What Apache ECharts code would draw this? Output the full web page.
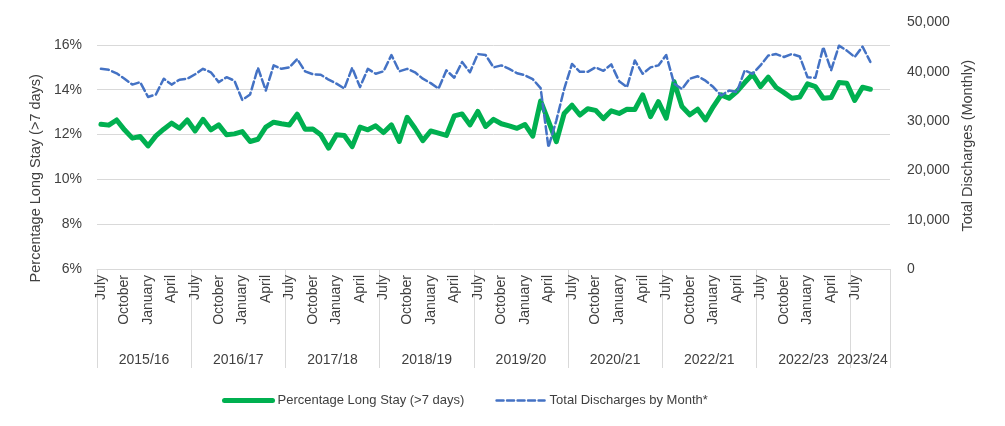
<!DOCTYPE html>
<html>
<head>
<meta charset="utf-8">
<script src="https://cdn.jsdelivr.net/npm/echarts@6/dist/echarts.min.js"></script>
<style>
html,body{margin:0;padding:0;background:#fff;}
#chart{width:1005px;height:426px;}
</style>
</head>
<body>
<div id="chart"></div>
<script>
// Month order of each financial year (July start)
const monthNames = ['July','August','September','October','November','December','January','February','March','April','May','June'];
// 101 monthly categories: July 2015 ... November 2023
const months = [];
for (let i = 0; i < 101; i++) months.push(monthNames[i % 12]);

const yearLabels = ['2015/16','2016/17','2017/18','2018/19','2019/20','2020/21','2022/21','2022/23','2023/24'];
const yearLabelAt = [6, 18, 30, 42, 54, 66, 78, 90, 97];

const pctLongStay = [
  12.46, 12.42, 12.65, 12.21, 11.84, 11.91, 11.49, 11.94, 12.24, 12.51, 12.28, 12.65,
  12.16, 12.68, 12.21, 12.43, 11.99, 12.03, 12.13, 11.69, 11.79, 12.33, 12.55, 12.48,
  12.43, 12.91, 12.24, 12.25, 11.99, 11.39, 11.99, 11.96, 11.46, 12.33, 12.21, 12.39,
  12.09, 12.43, 11.69, 12.77, 12.28, 11.73, 12.16, 12.06, 11.96, 12.83, 12.92, 12.43,
  13.03, 12.36, 12.68, 12.48, 12.39, 12.28, 12.45, 11.93, 13.50, 12.60, 11.68, 12.94,
  13.31, 12.87, 13.15, 13.08, 12.71, 13.06, 12.94, 13.13, 13.12, 13.77, 12.80, 13.47,
  12.73, 14.36, 13.25, 12.88, 13.13, 12.65, 13.25, 13.77, 13.62, 13.92, 14.32, 14.69,
  14.14, 14.56, 14.10, 13.87, 13.62, 13.67, 14.26, 14.14, 13.62, 13.65, 14.32, 14.29,
  13.52, 14.11, 14.02
];

const totalDischarges = [
  40600, 40400, 39700, 38600, 37400, 37900, 34900, 35400, 38600, 37400, 38400, 38600,
  39500, 40600, 39900, 37900, 38900, 38200, 34300, 35400, 40800, 36200, 41300, 40600,
  40900, 42600, 40100, 39500, 39400, 38400, 37600, 36600, 40800, 36900, 40600, 39600,
  40100, 43400, 40100, 40600, 39900, 38600, 37700, 36600, 40300, 38800, 42000, 39900,
  43600, 43400, 40900, 41300, 40600, 39700, 39300, 38500, 36700, 24700, 30100, 36500,
  41600, 40000, 40000, 40900, 40200, 41500, 38100, 36900, 42300, 39600, 40900, 41300,
  43400, 37600, 36500, 38600, 39100, 38200, 36900, 35200, 36200, 35900, 40300, 39600,
  41300, 43300, 43600, 43000, 43600, 43100, 38900, 38800, 45000, 40300, 45300, 44300,
  43000, 45100, 42000
];

const font = "'Liberation Sans', Arial, sans-serif";
const txt = '#404040';
const gridCol = '#d9d9d9';
const green = '#00B050';
const blue = '#4472C4';

const chart = echarts.init(document.getElementById('chart'), null, {renderer: 'canvas'});
chart.setOption({
  animation: false,
  backgroundColor: '#ffffff',
  textStyle: {fontFamily: font},
  grid: {left: 97, right: 115, top: 22.5, bottom: 157, containLabel: false},
  legend: {
    left: 217, top: 389,
    itemWidth: 48, itemHeight: 14, itemGap: 31,
    itemStyle: {opacity: 0},
    textStyle: {fontFamily: font, fontSize: 13, color: txt},
    data: [
      {name: 'Percentage Long Stay (>7 days)', lineStyle: {color: green, width: 5, cap: 'round'}},
      {name: 'Total Discharges by Month*', lineStyle: {color: blue, width: 2.5, type: [7, 3.5]}}
    ]
  },
  xAxis: [
    {
      type: 'category',
      data: months,
      boundaryGap: true,
      axisLine: {show: true, lineStyle: {color: gridCol, width: 1}},
      axisTick: {
        show: true, length: 99,
        interval: function (index) { return index % 12 === 0; },
        lineStyle: {color: gridCol, width: 1}
      },
      axisLabel: {
        rotate: 90, margin: 6,
        fontFamily: font, fontSize: 14, color: txt,
        interval: function (index) { return index % 3 === 0 && index < pctLongStay.length; }
      },
      splitLine: {show: false}
    },
    {
      type: 'category',
      data: months,
      position: 'bottom',
      boundaryGap: true,
      axisLine: {show: false},
      axisTick: {show: false},
      axisLabel: {
        margin: 84,
        fontFamily: font, fontSize: 14, color: txt,
        interval: function (index) { return yearLabelAt.indexOf(index) >= 0; },
        formatter: function (value, index) {
          const k = yearLabelAt.indexOf(index);
          if (k < 0) return '';
          return (k < yearLabels.length - 1 ? '{a|' : '{b|') + yearLabels[k] + '}';
        },
        rich: {
          a: {padding: [0, 8, 0, 0], fontFamily: font, fontSize: 14, color: txt},
          b: {fontFamily: font, fontSize: 14, color: txt}
        }
      },
      splitLine: {show: false}
    }
  ],
  yAxis: [
    {
      type: 'value',
      min: 6, max: 17, interval: 2,
      name: 'Percentage Long Stay (>7 days)',
      nameLocation: 'middle', nameRotate: 90, nameGap: 50,
      nameTextStyle: {fontFamily: font, fontSize: 14.5, color: txt, padding: [0, 65, 0, 0]},
      axisLine: {show: false},
      axisTick: {show: false},
      axisLabel: {
        margin: 15, fontFamily: font, fontSize: 14, color: txt,
        showMaxLabel: false,
        formatter: function (v) { return v + '%'; }
      },
      splitLine: {show: true, showMaxLine: false, lineStyle: {color: gridCol, width: 1}}
    },
    {
      type: 'value',
      min: 0, max: 50000, interval: 10000,
      position: 'right',
      name: 'Total Discharges (Monthly)',
      nameLocation: 'middle', nameRotate: 90, nameGap: 69,
      nameTextStyle: {fontFamily: font, fontSize: 14.5, color: txt},
      axisLine: {show: false},
      axisTick: {show: false},
      axisLabel: {
        margin: 17, fontFamily: font, fontSize: 14, color: txt,
        formatter: function (v) { return v.toLocaleString('en-US'); }
      },
      splitLine: {show: false}
    }
  ],
  series: [
    {
      name: 'Percentage Long Stay (>7 days)',
      type: 'line',
      xAxisIndex: 0, yAxisIndex: 0,
      data: pctLongStay,
      symbol: 'none', smooth: false,
      lineStyle: {color: green, width: 5, cap: 'round', join: 'round'},
      itemStyle: {color: green},
      z: 2
    },
    {
      name: 'Total Discharges by Month*',
      type: 'line',
      xAxisIndex: 0, yAxisIndex: 1,
      data: totalDischarges,
      symbol: 'none', smooth: false,
      lineStyle: {color: blue, width: 2.5, type: [8, 3.5], cap: 'round', join: 'round'},
      itemStyle: {color: blue},
      z: 3
    }
  ]
});
</script>
</body>
</html>
